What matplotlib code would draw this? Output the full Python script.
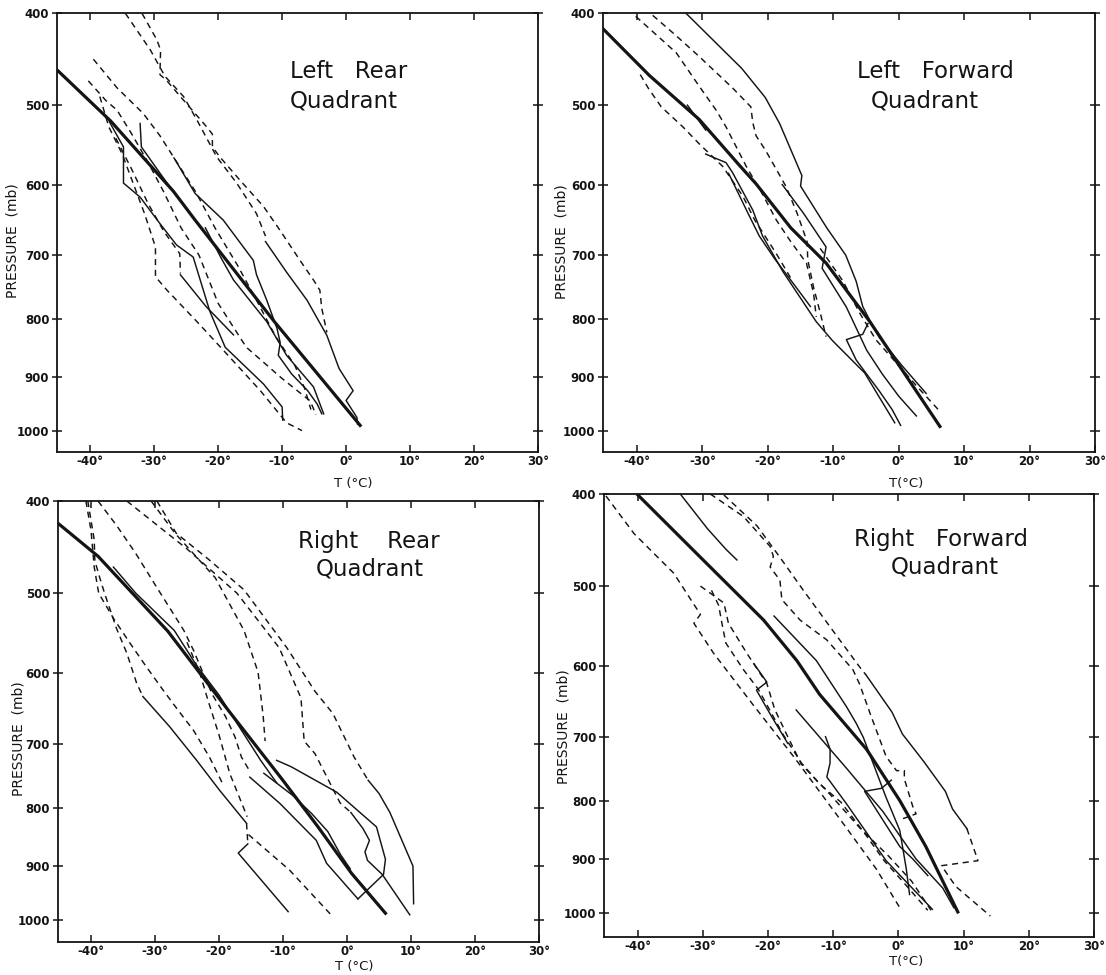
import numpy as np
import matplotlib
matplotlib.use("Agg")
import matplotlib.pyplot as plt

KAPPA = 0.286          # Stuve-type pressure axis: height ~ p**(R/cp)
INK = "#141414"

# ---------------- Left Rear quadrant: (T degC, p mb) ----------------
LR_MEAN = [(-45.0, 461), (-36.8, 519), (-27.0, 609), (-23.6, 649), (-11.2, 805), (2.2, 990)]
LR_D1 = [(-34.5, 400), (-30.6, 438), (-28.3, 467), (-25.4, 490), (-23.3, 518), (-20.2, 564),
         (-17.1, 598), (-14.0, 640), (-12.6, 672)]
LR_S1 = [(-12.6, 680), (-9.3, 726), (-6.1, 770), (-3.0, 828), (-1.1, 885), (1.1, 925),
         (0.0, 943), (1.7, 975), (1.8, 988)]
LR_D2 = [(-31.9, 400), (-29.6, 427), (-29.0, 438), (-29.1, 465), (-28.0, 472), (-25.9, 490),
         (-21.8, 526), (-20.9, 535), (-20.9, 551), (-19.7, 564), (-16.6, 594), (-12.9, 630),
         (-10.3, 664), (-7.2, 708), (-5.1, 738), (-4.1, 754), (-3.8, 783), (-3.0, 823)]
LR_S5 = [(-26.9, 565), (-23.6, 612), (-19.2, 649), (-14.5, 708), (-14.0, 730), (-12.4, 770),
         (-10.8, 816), (-10.3, 840), (-10.6, 862), (-8.5, 895), (-6.0, 925), (-4.5, 950), (-3.8, 968)]
LR_S2 = [(-37.0, 520), (-34.8, 551), (-34.8, 598), (-32.2, 617), (-29.1, 654), (-26.5, 685),
         (-23.9, 703), (-21.3, 788), (-18.9, 848), (-12.9, 913), (-10.0, 955), (-9.9, 980)]
LR_S4 = [(-25.9, 730), (-21.9, 780), (-17.6, 827)]
LR_D7 = [(-36.0, 540), (-33.5, 580), (-31.0, 625), (-28.5, 665), (-26.0, 698), (-25.9, 728)]
LR_DL = [(-38.5, 490), (-37.1, 526), (-35.0, 560), (-33.3, 598), (-31.5, 640), (-29.8, 688),
         (-29.8, 733), (-28.0, 754), (-23.3, 805), (-19.2, 853), (-13.4, 925), (-9.3, 985), (-6.9, 1000)]
LR_S7 = [(-22.0, 660), (-19.5, 705), (-17.6, 738), (-12.4, 805), (-9.3, 862), (-5.1, 918), (-3.5, 968)]
LR_D3 = [(-39.5, 448), (-35.8, 480), (-31.7, 510), (-29.1, 537), (-26.5, 570), (-23.5, 610),
         (-20.5, 660), (-17.0, 715), (-14.0, 770), (-11.0, 830), (-8.0, 880), (-6.5, 920), (-5.5, 960)]
LR_D4 = [(-40.3, 472), (-37.5, 495), (-35.8, 506), (-33.5, 535), (-31.0, 570), (-28.5, 610),
         (-25.8, 660), (-23.0, 700), (-20.0, 775), (-15.6, 848), (-10.0, 903), (-5.6, 944), (-4.7, 970)]
LR_S6 = [(-32.2, 522), (-32.0, 551), (-29.5, 580), (-27.0, 610)]

# ---------------- Left Forward quadrant ----------------
LF_MEAN = [(-45.3, 415), (-38.1, 466), (-30.5, 517), (-24.3, 575), (-21.8, 599), (-16.5, 660),
           (-11.1, 712), (-4.4, 805), (6.3, 992)]
LF_SR = [(-32.5, 400), (-24.0, 458), (-20.4, 491), (-18.2, 522), (-14.8, 588), (-15.0, 602),
         (-11.0, 660), (-8.1, 700), (-6.5, 740), (-5.5, 780), (-4.4, 803), (-2.9, 832), (0.5, 880), (4.2, 930)]
LF_SB = [(-17.8, 600), (-14.5, 640), (-11.1, 688), (-11.7, 720), (-8.0, 781), (-4.9, 853),
         (-2.5, 895), (0.0, 935), (2.7, 972)]
LF_DA = [(-37.6, 402), (-34.0, 423), (-30.5, 445), (-25.4, 480), (-22.6, 502), (-22.3, 521),
         (-21.8, 537), (-20.3, 556), (-17.2, 603), (-15.5, 640), (-14.0, 680), (-13.9, 707),
         (-13.0, 750), (-12.0, 790), (-11.1, 830)]
LF_DB = [(-40.2, 403), (-34.0, 441), (-30.5, 478), (-27.9, 506), (-26.4, 526), (-23.3, 576),
         (-21.0, 610), (-18.7, 649), (-16.5, 680), (-14.1, 712), (-13.0, 760), (-12.6, 797)]
LF_DC = [(-39.5, 465), (-38.3, 480), (-36.3, 502), (-33.0, 526), (-30.5, 547), (-26.9, 576),
         (-23.8, 616), (-22.0, 649), (-18.7, 698), (-16.5, 735)]
LF_SC = [(-29.5, 560), (-28.7, 563), (-26.4, 571), (-25.4, 584), (-22.3, 635), (-20.8, 672),
         (-17.7, 725), (-12.6, 805), (-10.1, 837), (-5.2, 893), (-0.6, 985)]
LF_SD = [(-26.0, 585), (-23.0, 640), (-21.3, 672), (-19.0, 705), (-16.0, 745), (-13.5, 780)]
LF_SE = [(-4.7, 808), (-5.5, 826), (-8.0, 835), (-6.5, 870), (-4.9, 895), (-3.0, 925), (-1.0, 960), (0.3, 990)]
LF_DD = [(-12.0, 690), (-8.5, 740), (-6.0, 790), (-3.5, 835), (0.0, 880), (3.0, 920), (6.2, 962)]
LF_SS = [(-32.3, 500), (-29.5, 530)]

# ---------------- Right Rear quadrant ----------------
RR_MEAN = [(-45.1, 423), (-38.9, 458), (-28.0, 546), (-19.1, 645), (-10.1, 755), (-4.6, 831),
           (0.7, 913), (6.0, 987)]
RR_R1D = [(-29.7, 400), (-26.7, 433), (-21.7, 461), (-16.1, 496), (-9.4, 567), (-5.0, 625),
          (-2.2, 656), (1.1, 720), (3.3, 756)]
RR_R1S = [(3.3, 756), (5.0, 777), (6.7, 808), (10.3, 900), (10.4, 969)]
RR_R2 = [(-34.4, 400), (-25.0, 450), (-17.2, 500), (-10.6, 567), (-7.2, 634), (-6.7, 696),
         (-5.0, 715), (-1.1, 792), (0.6, 808)]
RR_R3 = [(-30.6, 400), (-26.9, 433), (-20.6, 482), (-16.1, 545), (-13.9, 599), (-13.1, 660), (-12.8, 696)]
RR_BLD = [(-40.5, 400), (-39.5, 440), (-39.4, 463), (-38.6, 483), (-37.8, 502), (-36.0, 543),
          (-34.4, 574), (-32.9, 613), (-31.9, 632)]
RR_BLS = [(-31.9, 632), (-27.7, 675), (-23.5, 725), (-19.9, 772), (-15.7, 826)]
RR_BLD2 = [(-15.7, 826), (-15.5, 861)]
RR_BLS2 = [(-15.5, 861), (-17.0, 877), (-9.2, 984)]
RR_LOWD = [(-15.4, 845), (-9.0, 907), (-2.5, 990)]
RR_V1 = [(-40.8, 400), (-40.0, 430), (-39.5, 470), (-38.8, 500), (-36.5, 530), (-34.0, 560),
         (-31.5, 590), (-29.0, 620), (-26.5, 650), (-24.0, 680), (-21.5, 720), (-19.5, 760)]
RR_V2 = [(-38.9, 400), (-36.0, 425), (-33.0, 455), (-30.0, 490), (-27.5, 520), (-25.5, 545),
         (-24.0, 570), (-22.5, 600), (-21.0, 630), (-19.0, 660), (-17.5, 690), (-16.5, 720), (-15.3, 740)]
RR_V3 = [(-25.0, 560), (-23.0, 600), (-21.7, 638), (-20.0, 687), (-18.3, 746), (-15.6, 815)]
RR_SLOOP = [(-11.0, 725), (-8.7, 735), (-1.6, 775), (4.6, 832), (6.0, 888), (5.7, 915), (1.7, 960)]
RR_SMID1 = [(-15.2, 751), (-10.5, 793), (-4.8, 855), (-3.2, 895), (1.7, 960)]
RR_SMID2 = [(-13.0, 745), (-8.5, 780), (-5.5, 810), (-3.0, 840), (-1.0, 880), (0.5, 905)]
RR_SR2 = [(0.6, 808), (2.5, 835), (3.5, 855), (2.8, 875), (3.2, 890), (5.5, 915), (9.8, 990)]
RR_SPAR = [(-36.5, 470), (-33.0, 500), (-27.0, 545), (-23.5, 590), (-20.0, 630), (-16.5, 680),
           (-13.5, 725), (-11.0, 760)]

# ---------------- Right Forward quadrant ----------------
RF_MEAN = [(-40.0, 401), (-30.4, 467), (-20.7, 541), (-15.6, 593), (-12.1, 639), (-4.9, 719),
           (0.2, 800), (4.2, 878), (9.1, 998)]
RF_S1 = [(-33.5, 400), (-29.3, 436), (-26.5, 458), (-24.8, 470)]
RF_S2 = [(-19.1, 536), (-12.6, 593), (-8.0, 656), (-6.5, 680), (-5.4, 701), (-1.9, 795),
         (0.2, 850), (1.2, 918), (1.7, 965)]
RF_S3 = [(-5.0, 612), (-1.0, 664), (0.6, 696), (3.9, 738), (7.2, 785), (8.3, 814), (10.5, 847)]
RF_D3 = [(10.5, 847), (12.2, 903), (6.6, 912), (8.8, 950), (14.1, 1006)]
RF_DR1 = [(-26.8, 401), (-21.7, 433), (-18.2, 467), (-14.6, 505), (-10.0, 555), (-6.0, 601), (-5.0, 612)]
RF_DR2 = [(-28.9, 400), (-23.8, 423), (-19.7, 455), (-19.2, 466), (-19.7, 478), (-18.2, 493),
          (-17.9, 516), (-15.1, 541), (-11.0, 566), (-7.0, 605), (-6.0, 624), (-4.2, 670),
          (-1.9, 730), (-0.3, 752), (0.9, 752), (0.9, 765), (2.2, 810), (2.7, 822), (0.7, 830)]
RF_DL = [(-44.9, 402), (-40.6, 441), (-34.5, 485), (-30.4, 534), (-31.4, 545), (-28.4, 583),
         (-22.2, 655), (-16.1, 730), (-8.5, 838), (-3.4, 918), (0.2, 990)]
RF_D2 = [(-30.4, 500), (-26.8, 520), (-26.1, 545), (-23.3, 583), (-20.2, 624), (-19.0, 660),
         (-17.0, 700), (-14.9, 742), (-10.5, 790), (-6.0, 845), (-1.5, 895), (2.0, 940), (5.0, 995)]
RF_D5 = [(-28.7, 505), (-27.6, 523), (-27.1, 545), (-26.5, 570), (-23.8, 605), (-21.5, 632),
         (-19.3, 669), (-17.7, 697), (-14.9, 740), (-12.2, 772), (-8.8, 803), (-5.0, 858),
         (-2.2, 903), (0.6, 940), (4.5, 995)]
RF_S4 = [(-22.2, 597), (-20.2, 622), (-21.8, 633), (-19.5, 670), (-17.0, 710)]
RF_S5 = [(-15.7, 661), (-8.0, 748), (-2.4, 818), (2.7, 900), (6.8, 953), (8.5, 990)]
RF_S6 = [(-11.2, 700), (-10.5, 719), (-10.5, 740), (-11.0, 762), (-8.0, 805), (-1.9, 903), (5.2, 993)]
RF_S7 = [(-1.1, 767), (-2.6, 780), (-5.2, 785), (0.2, 878), (2.2, 900), (4.5, 930)]

T_TICKS = [-40, -30, -20, -10, 0, 10, 20, 30]
P_TICKS = [400, 500, 600, 700, 800, 900, 1000]

PANELS = [
    dict(rect=[0.0515, 0.5364, 0.4349, 0.4499], pbot=1042,
         title=("Left   Rear", "Quadrant"), tpos=((0.607, 0.868), (0.597, 0.800)),
         xlabel="T (°C)", xlab_y=-0.058, ylab=(-0.077, 0.483),
         mean=LR_MEAN,
         solid=[LR_S1, LR_S5, LR_S2, LR_S4, LR_S7, LR_S6],
         dashed=[LR_D1, LR_D2, LR_D7, LR_DL, LR_D3, LR_D4]),
    dict(rect=[0.5452, 0.5364, 0.4448, 0.4499], pbot=1042,
         title=("Left   Forward", "Quadrant"), tpos=((0.675, 0.868), (0.654, 0.800)),
         xlabel="T(°C)", xlab_y=-0.058, ylab=(-0.071, 0.48),
         mean=LF_MEAN,
         solid=[LF_SR, LF_SB, LF_SC, LF_SD, LF_SE, LF_SS],
         dashed=[LF_DA, LF_DB, LF_DC, LF_DD]),
    dict(rect=[0.0522, 0.0338, 0.4352, 0.4523], pbot=1043,
         title=("Right    Rear", "Quadrant"), tpos=((0.647, 0.908), (0.649, 0.847)),
         xlabel="T (°C)", xlab_y=-0.040, ylab=(-0.068, 0.462),
         mean=RR_MEAN,
         solid=[RR_R1S, RR_BLS, RR_BLS2, RR_SLOOP, RR_SMID1, RR_SMID2, RR_SR2, RR_SPAR],
         dashed=[RR_R1D, RR_R2, RR_R3, RR_BLD, RR_BLD2, RR_LOWD, RR_V1, RR_V2, RR_V3]),
    dict(rect=[0.5461, 0.0390, 0.4430, 0.4544], pbot=1047,
         title=("Right   Forward", "Quadrant"), tpos=((0.688, 0.897), (0.696, 0.836)),
         xlabel="T(°C)", xlab_y=-0.040, ylab=(-0.069, 0.475),
         mean=RF_MEAN,
         solid=[RF_S1, RF_S2, RF_S3, RF_S4, RF_S5, RF_S6, RF_S7],
         dashed=[RF_D3, RF_DR1, RF_DR2, RF_DL, RF_D2, RF_D5]),
]


def p_fwd(p):
    return np.power(np.clip(p, 1e-6, None), KAPPA)


def p_inv(s):
    return np.power(np.clip(s, 1e-9, None), 1.0 / KAPPA)


def draw_profile(ax, pts, **kw):
    t = [a for a, _ in pts]
    p = [b for _, b in pts]
    ax.plot(t, p, color=INK, solid_joinstyle="round", dash_joinstyle="round", **kw)


fig = plt.figure(figsize=(11.06, 9.75), dpi=100)
fig.patch.set_facecolor("white")

for spec in PANELS:
    ax = fig.add_axes(spec["rect"])
    ax.set_yscale("function", functions=(p_fwd, p_inv))
    ax.set_xlim(-45.2, 30)
    ax.set_ylim(spec["pbot"], 400)

    for pts in spec["dashed"]:
        draw_profile(ax, pts, lw=1.05, linestyle=(0, (4.2, 3.2)))
    for pts in spec["solid"]:
        draw_profile(ax, pts, lw=1.05)
    draw_profile(ax, spec["mean"], lw=2.3)

    ax.set_xticks(T_TICKS)
    ax.set_xticklabels([f"{v}°" for v in T_TICKS])
    ax.set_yticks(P_TICKS)
    ax.set_yticklabels([str(v) for v in P_TICKS])
    ax.minorticks_off()
    ax.tick_params(axis="x", direction="in", top=True, length=5, width=1.1,
                   labelsize=8.5, pad=2, colors=INK)
    ax.tick_params(axis="y", direction="inout", right=True, length=7, width=1.1,
                   labelsize=8.5, pad=2, colors=INK)
    for lab in ax.get_xticklabels() + ax.get_yticklabels():
        lab.set_fontweight("bold")
    for sp in ax.spines.values():
        sp.set_linewidth(1.3)
        sp.set_color(INK)

    ax.set_xlabel(spec["xlabel"], fontsize=9.5, color=INK, labelpad=1)
    ax.xaxis.set_label_coords(0.617, spec["xlab_y"])
    ax.set_ylabel("PRESSURE  (mb)", fontsize=10, color=INK)
    ax.yaxis.set_label_coords(*spec["ylab"])

    (l1, l2), (pos1, pos2) = spec["title"], spec["tpos"]
    ax.text(*pos1, l1, transform=ax.transAxes, ha="center", va="center",
            fontsize=16.5, color=INK)
    ax.text(*pos2, l2, transform=ax.transAxes, ha="center", va="center",
            fontsize=16.5, color=INK)

fig.savefig("out.png", dpi=100, facecolor="white")
